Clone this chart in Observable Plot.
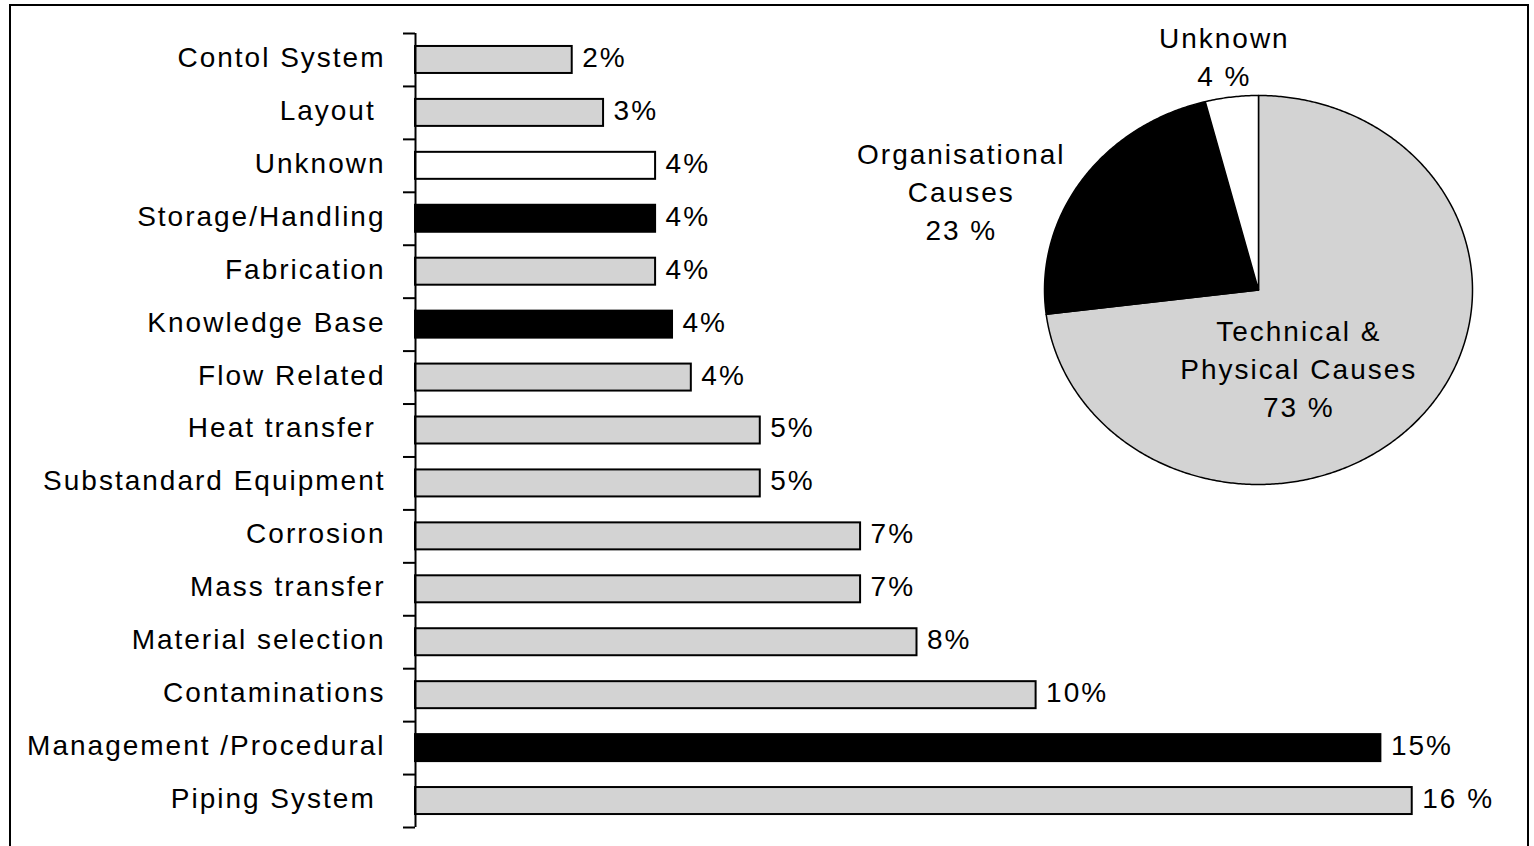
<!DOCTYPE html>
<html>
<head>
<meta charset="utf-8">
<script src="https://cdn.jsdelivr.net/npm/d3@7"></script>
<script src="https://cdn.jsdelivr.net/npm/@observablehq/plot@0.6"></script>
<style>
  html, body { margin: 0; padding: 0; background: #fff; }
  #wrap { position: relative; width: 1534px; height: 846px; overflow: hidden; }
  #frame { position: absolute; left: 9px; top: 4px; width: 1520px; height: 900px; border: 2px solid #000; box-sizing: border-box; }
  #bars { position: absolute; left: 0; top: 0; }
  #pie { position: absolute; left: 820px; top: 0; }
  svg text { white-space: pre; }
</style>
</head>
<body>
<div id="wrap">
  <div id="frame"></div>
  <div id="bars"></div>
  <div id="pie"></div>
</div>
<script>
// ---- Data (top to bottom) ----
const causes = ["Contol System", "Layout ", "Unknown", "Storage/Handling", "Fabrication",
  "Knowledge Base", "Flow Related", "Heat transfer ", "Substandard Equipment", "Corrosion",
  "Mass transfer", "Material selection", "Contaminations", "Management /Procedural", "Piping System "];
const values = [2.5, 3.0, 3.83, 3.83, 3.83, 4.1, 4.4, 5.5, 5.5, 7.1, 7.1, 8.0, 9.9, 15.4, 15.9];
const valueLabels = ["2%", "3%", "4%", "4%", "4%", "4%", "4%", "5%", "5%", "7%", "7%", "8%", "10%", "15%", "16 %"];
const groups = ["Technical", "Technical", "Unknown", "Organisational", "Technical",
  "Organisational", "Technical", "Technical", "Technical", "Technical",
  "Technical", "Technical", "Technical", "Organisational", "Technical"];

const pieGroups = ["Technical", "Organisational", "Unknown"];
const pieValues = [73, 23, 4];
const pieLabels = ["Technical &\nPhysical Causes\n73 %", "Organisational\nCauses\n23 %", "Unknown\n4 %"];

// ---- Styling ----
const groupColors = {Technical: "#d3d3d3", Organisational: "#000000", Unknown: "#ffffff"};
const font = {fontFamily: "'Liberation Sans', Arial, sans-serif", fontSize: "28px", letterSpacing: "2px", color: "#000", background: "transparent"};

const rows = causes.map((c, i) => ({i, cause: c, value: values[i], label: valueLabels[i], group: groups[i]}));

const bars = Plot.plot({
  width: 1534,
  height: 846,
  marginLeft: 415,
  marginRight: 116,
  marginTop: 33,
  marginBottom: 19,
  style: font,
  x: {domain: [0, 16], axis: null},
  y: {domain: [0, causes.length], reverse: true, axis: null},
  marks: [
    Plot.rect(rows, {
      x1: () => 0, x2: "value",
      y1: d => d.i + 0.245, y2: d => d.i + 0.755,
      fill: d => groupColors[d.group], stroke: "#000", strokeWidth: 2
    }),
    Plot.axisY({ticks: d3.range(causes.length + 1), tickSize: 12, tickFormat: () => "", strokeWidth: 2, anchor: "left"}),
    Plot.ruleX([0], {stroke: "#000", strokeWidth: 2}),
    Plot.text(rows, {x: () => 0, y: d => d.i + 0.5, text: "cause", dx: -30, dy: -2, textAnchor: "end", fill: "#000"}),
    Plot.text(rows, {x: "value", y: d => d.i + 0.5, text: "label", dx: 10, dy: -2, textAnchor: "start", fill: "#000"})
  ]
});
document.getElementById("bars").appendChild(bars);

// ---- Pie ----
const arcs = d3.pie().sort(null).value(d => d.value)(pieGroups.map((g, k) => ({group: g, value: pieValues[k], label: pieLabels[k]})));
const slicePts = [];
for (const a of arcs) {
  const n = Math.max(2, Math.ceil((a.endAngle - a.startAngle) / (Math.PI / 360)));
  slicePts.push({group: a.data.group, x: 0, y: 0});
  for (let k = 0; k <= n; k++) {
    const t = a.startAngle + (a.endAngle - a.startAngle) * k / n;
    slicePts.push({group: a.data.group, x: Math.sin(t), y: Math.cos(t)});
  }
  slicePts.push({group: a.data.group, x: 0, y: 0});
}
// label placement: radius along mid-angle plus pixel nudges
const labelPlace = {Technical: {r: 0.6, dx: -56, dy: 0}, Organisational: {r: 1.6, dx: -14, dy: 75}, Unknown: {r: 1.2, dx: -2, dy: -4}};
const labelRows = arcs.map(a => {
  const m = (a.startAngle + a.endAngle) / 2, p = labelPlace[a.data.group];
  return {x: p.r * Math.sin(m), y: p.r * Math.cos(m), dx: p.dx, dy: p.dy, label: a.data.label};
});

const pie = Plot.plot({
  width: 714,
  height: 500,
  margin: 0,
  style: font,
  x: {domain: [-1, 1], range: [224, 652], axis: null},
  y: {domain: [-1, 1], range: [484, 95], axis: null},
  marks: [
    Plot.line(slicePts, {x: "x", y: "y", z: "group", fill: d => groupColors[d.group], stroke: "#000", strokeWidth: 1.5, strokeLinejoin: "round"}),
    ...labelRows.map(l => Plot.text([l], {x: "x", y: "y", text: "label", dx: l.dx, dy: l.dy, lineHeight: 1.36, textAnchor: "middle", fill: "#000"}))
  ]
});
document.getElementById("pie").appendChild(pie);
</script>
</body>
</html>
